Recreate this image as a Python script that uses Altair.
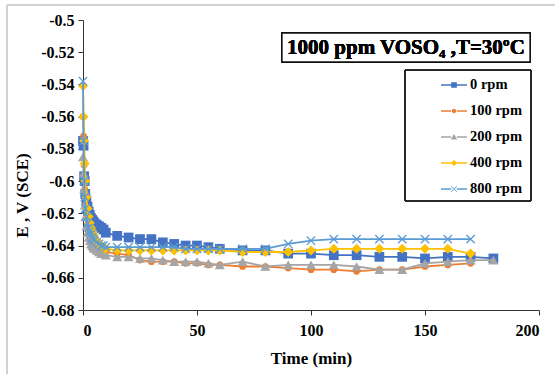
import altair as alt
import pandas as pd

# ---- data ----
series_names = ["0 rpm", "100 rpm", "200 rpm", "400 rpm", "800 rpm"]
series_colors = ["#4472C4", "#ED7D31", "#A5A5A5", "#FFC000", "#5B9BD5"]

t_early = [0, 0.25, 0.5, 0.75, 1, 1.5, 2, 2.5, 3, 3.5, 4, 4.5, 5, 6, 7, 8, 9, 10]
t_late = [15, 20, 25, 30, 35, 40, 45, 50, 55, 60, 70, 80, 90, 100, 110, 120,
          130, 140, 150, 160, 170, 180]

e_0 = [-0.575, -0.578, -0.597, -0.600, -0.608, -0.612, -0.616, -0.619, -0.621,
       -0.623, -0.624, -0.625, -0.626, -0.627, -0.628, -0.629, -0.630, -0.632,
       -0.634, -0.635, -0.636, -0.636, -0.638, -0.639, -0.640, -0.640, -0.641,
       -0.642, -0.643, -0.643, -0.645, -0.645, -0.646, -0.646, -0.647, -0.647,
       -0.648, -0.647, -0.647, -0.648]
e_100 = [-0.560, -0.572, -0.590, -0.605, -0.615, -0.622, -0.627, -0.631, -0.634,
         -0.636, -0.638, -0.639, -0.640, -0.641, -0.642, -0.643, -0.643, -0.644,
         -0.645, -0.646, -0.649, -0.650, -0.650, -0.650, -0.651, -0.651, -0.652,
         -0.652, -0.653, -0.653, -0.654, -0.655, -0.655, -0.656, -0.655, -0.655,
         -0.653, -0.652, -0.651]
e_200 = [-0.585, -0.595, -0.605, -0.615, -0.622, -0.628, -0.632, -0.635, -0.637,
         -0.639, -0.640, -0.641, -0.642, -0.643, -0.644, -0.645, -0.645, -0.646,
         -0.647, -0.647, -0.648, -0.648, -0.649, -0.650, -0.650, -0.650, -0.651,
         -0.652, -0.650, -0.653, -0.652, -0.652, -0.652, -0.653, -0.655, -0.655,
         -0.651, -0.650, -0.649, -0.649]
e_400 = [-0.541, -0.560, -0.575, -0.589, -0.600, -0.610, -0.617, -0.622, -0.626,
         -0.629, -0.631, -0.633, -0.635, -0.637, -0.639, -0.640, -0.641, -0.642,
         -0.643, -0.643, -0.643, -0.643, -0.643, -0.643, -0.643, -0.643, -0.643,
         -0.643, -0.644, -0.644, -0.644, -0.643, -0.642, -0.642, -0.642, -0.642,
         -0.642, -0.642, -0.645]
e_800 = [-0.538, -0.575, -0.600, -0.610, -0.617, -0.622, -0.626, -0.629, -0.631,
         -0.633, -0.635, -0.636, -0.637, -0.638, -0.639, -0.640, -0.640, -0.641,
         -0.641, -0.641, -0.641, -0.641, -0.641, -0.641, -0.642, -0.642, -0.642,
         -0.642, -0.642, -0.642, -0.639, -0.637, -0.636, -0.636, -0.636, -0.636,
         -0.636, -0.636, -0.636]

x_ticks = [0, 50, 100, 150, 200]
y_ticks = [-0.68, -0.66, -0.64, -0.62, -0.6, -0.58, -0.56, -0.54, -0.52, -0.5]

all_t = t_early + t_late
values = [e_0, e_100, e_200, e_400, e_800]
rows = []
for name, ev in zip(series_names, values):
    for t, e in zip(all_t, ev):
        rows.append({"t": t, "E": e, "series": name})
df = pd.DataFrame(rows)

FONT = "Liberation Serif"
W, H = 456, 290
PAD_L, PAD_T = 83, 20

x_scale = alt.Scale(domain=[0, 200], nice=False)
y_scale = alt.Scale(domain=[-0.68, -0.5], nice=False)

x_axis = alt.Axis(values=x_ticks, title="Time (min)", grid=False,
                  labelFont=FONT, labelFontSize=16, labelFontWeight="bold",
                  labelColor="black", titleFont=FONT, titleFontSize=17,
                  titleFontWeight="bold", titleColor="black", domainColor="#333",
                  tickColor="#333", tickSize=5, labelPadding=7, titlePadding=12)
y_axis = alt.Axis(values=y_ticks, title="E , V (SCE)", grid=False,
                  labelFont=FONT, labelFontSize=16, labelFontWeight="bold",
                  labelColor="black", titleFont=FONT, titleFontSize=17,
                  titleFontWeight="bold", titleColor="black", domainColor="#333",
                  tickColor="#333", tickSize=5, labelPadding=4,
                  titleX=22 - PAD_L, titleY=195 - PAD_T, titleAlign="center",
                  titleBaseline="middle", titleAngle=270,
                  labelExpr="replace(format(datum.value, '.2~f'), '\u2212', '-')")

X = alt.X("t:Q", scale=x_scale, axis=x_axis)
Y = alt.Y("E:Q", scale=y_scale, axis=y_axis)

base = alt.Chart(df)

markers = {
    "0 rpm": dict(shape="square", size=95, filled=True),
    "100 rpm": dict(shape="circle", size=45, filled=True),
    "200 rpm": dict(shape="triangle-up", size=100, filled=True),
    "400 rpm": dict(shape="diamond", size=100, filled=True),
    "800 rpm": dict(shape="M-1,-1L1,1M-1,1L1,-1", size=70, filled=False, strokeWidth=1.3),
}

layers = []
for name, col in zip(series_names, series_colors):
    sub = base.transform_filter(alt.datum.series == name)
    line = sub.mark_line(color=col, strokeWidth=1.8).encode(x=X, y=Y, order="t:Q")
    pt = sub.mark_point(color=col, opacity=1, **markers[name]).encode(x=X, y=Y)
    layers += [line, pt]

# legend symbols: line with marker, as custom paths
ln = "M-1,-0.06H-0.22V0.06H-1Z M0.22,-0.06H1V0.06H0.22Z "
legend_paths = [
    ln + "M-0.22,-0.22H0.22V0.22H-0.22Z",
    ln + "M-0.17,0A0.17,0.17 0 1,1 0.17,0A0.17,0.17 0 1,1 -0.17,0Z",
    ln + "M0,-0.24L0.24,0.2H-0.24Z",
    ln + "M0,-0.24L0.24,0L0,0.24L-0.24,0Z",
    ln + "M-0.2,-0.24L0.24,0.2L0.2,0.24L-0.24,-0.2Z M-0.24,0.2L0.2,-0.24L0.24,-0.2L-0.2,0.24Z",
]
leg_df = pd.DataFrame({"series": series_names})
legend_layer = alt.Chart(leg_df).mark_point(filled=True, opacity=0, size=676).encode(
    color=alt.Color("series:N", scale=alt.Scale(domain=series_names, range=series_colors),
                    legend=alt.Legend(title=None, orient="none", legendX=358, legendY=52,
                                      labelFont=FONT, labelFontSize=14.5,
                                      labelFontWeight="bold", labelColor="black",
                                      symbolSize=676, symbolOpacity=1,
                                      symbolStrokeWidth=0, rowPadding=6,
                                      labelOffset=3)),
    shape=alt.Shape("series:N", scale=alt.Scale(domain=series_names, range=legend_paths),
                    legend=None),
)

legend_box = alt.Chart(leg_df).mark_rect(fill=None, stroke="#222", strokeWidth=1).encode(
    x=alt.value(405 - PAD_L), x2=alt.value(531 - PAD_L),
    y=alt.value(70 - PAD_T), y2=alt.value(201 - PAD_T))

title_box = alt.Chart(leg_df).mark_rect(fill="white", stroke="#111", strokeWidth=1.3).encode(
    x=alt.value(282 - PAD_L), x2=alt.value(530 - PAD_L),
    y=alt.value(33 - PAD_T), y2=alt.value(62 - PAD_T))
title_text = alt.Chart(leg_df).mark_text(
    text="1000 ppm VOSO\u2084 ,T=30\u00baC", font=FONT, fontSize=21, fontWeight="bold",
    color="black", align="center", baseline="middle").encode(
    x=alt.value(406 - PAD_L), y=alt.value(48 - PAD_T))

frame = alt.Chart(leg_df).mark_rect(fill=None, stroke="#d0d0d0", strokeWidth=1, clip=False).encode(
    x=alt.value(7 - PAD_L), x2=alt.value(600 - PAD_L),
    y=alt.value(5 - PAD_T), y2=alt.value(420 - PAD_T))

chart = alt.layer(*layers, frame, legend_layer, legend_box, title_box, title_text).properties(
    width=W, height=H,
    autosize=alt.AutoSizeParams(type="none"),
    padding={"left": PAD_L, "top": PAD_T, "right": 555 - PAD_L - W, "bottom": 374 - PAD_T - H},
    background="white",
).configure_view(stroke=None)

chart.save("out.html", embed_options={"renderer": "svg", "actions": False})
